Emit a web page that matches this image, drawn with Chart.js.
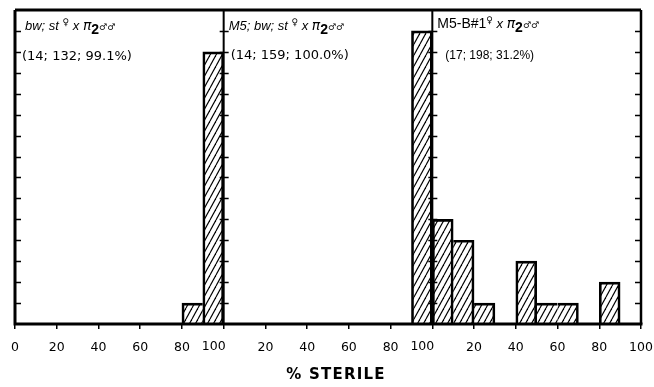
<!DOCTYPE html>
<html>
<head>
<meta charset="utf-8">
<script src="https://cdn.jsdelivr.net/npm/chart.js@4.4.1/dist/chart.umd.min.js"></script>
<style>
  html, body { margin: 0; padding: 0; background: #fff; }
  #wrap { width: 654px; height: 387px; }
</style>
</head>
<body>
<div id="wrap"><canvas id="chart" width="654" height="387"></canvas></div>
<script>
// bin starts (% sterile) inside each panel, 10% wide
const binStarts = [0, 10, 20, 30, 40, 50, 60, 70, 80, 90];
// number of females per bin
const panel1 = [0, 0, 0, 0, 0, 0, 0, 0, 1, 13];
const panel2 = [0, 0, 0, 0, 0, 0, 0, 0, 0, 14];
const panel3 = [5, 4, 1, 0, 3, 1, 1, 0, 2, 0];
const panels = [panel1, panel2, panel3];
const statLabels = ['(14; 132; 99.1%)', '(14; 159; 100.0%)', '(17; 198; 31.2%)'];
const axisTitle = '% STERILE';
const yMax = 15;

const NARROW = '"Liberation Sans Narrow", "Liberation Sans", sans-serif';
const SANS = '"Liberation Sans", Arial, sans-serif';
const DJ = '"DejaVu Sans", sans-serif';
const TICK_FONT = '12.5px ' + DJ;

// pieces of the cross labels (text, font, vertical shift)
const crossLabels = [
    [['bw; st ', 'italic 13px ' + NARROW, 0], ['♀', '9px ' + DJ, -5], [' x ', 'italic 13px ' + NARROW, 0],
     ['π', 'italic 14px ' + DJ, 0], ['2', 'bold 14px ' + SANS, 4], ['♂♂', '9px ' + DJ, 0]],
    [['M5; bw; st ', 'italic 13px ' + NARROW, 0], ['♀', '9px ' + DJ, -5], [' x ', 'italic 13px ' + NARROW, 0],
     ['π', 'italic 14px ' + DJ, 0], ['2', 'bold 14px ' + SANS, 4], ['♂♂', '9px ' + DJ, 0]],
    [['M5-B#1', '14px ' + SANS, 0], ['♀', '9px ' + DJ, -5], [' x ', 'italic 13px ' + NARROW, 0],
     ['π', 'italic 14px ' + DJ, 0], ['2', 'bold 14px ' + SANS, 4], ['♂♂', '9px ' + DJ, 0]]
];

function hatchPattern() {
    const c = document.createElement('canvas');
    c.width = 6; c.height = 11;
    const g = c.getContext('2d');
    g.strokeStyle = '#000';
    g.lineWidth = 1.2;
    for (const off of [-6, 0, 6]) {
        g.beginPath();
        g.moveTo(off, 11);
        g.lineTo(off + 6, 0);
        g.stroke();
    }
    return g.createPattern(c, 'repeat');
}

const points = panels.flatMap((vals, p) =>
    vals.map((v, i) => ({ x: p * 100 + binStarts[i] + 5, y: v })));

// histogram outline: a shared edge is drawn only by the taller bar
function barBorder(ctx) {
    const i = ctx.dataIndex;
    const vals = panels[Math.floor(i / 10)];
    const k = i % 10;
    const v = vals[k];
    return {
        top: 2,
        bottom: 0,
        left: k > 0 && vals[k - 1] >= v ? 0 : 2,
        right: k < 9 && vals[k + 1] >= v ? 0 : 2
    };
}

const framePlugin = {
    id: 'frame',
    afterDatasetsDraw(chart) {
        const { ctx, chartArea: a, scales: { x, y } } = chart;
        ctx.save();
        ctx.strokeStyle = '#000';
        // y ticks
        ctx.lineWidth = 1.5;
        const d1 = x.getPixelForValue(100), d2 = x.getPixelForValue(200);
        for (let v = 1; v < yMax; v++) {
            const py = Math.round(y.getPixelForValue(v)) + 0.5;
            ctx.beginPath();
            ctx.moveTo(a.left, py); ctx.lineTo(a.left + 6, py);
            ctx.moveTo(d1 - 4, py); ctx.lineTo(d1 + 5, py);
            ctx.moveTo(d2 - 4, py); ctx.lineTo(d2 + 5, py);
            ctx.moveTo(a.right - 6, py); ctx.lineTo(a.right, py);
            ctx.stroke();
        }
        // dividers
        ctx.lineWidth = 2;
        ctx.beginPath();
        ctx.moveTo(d1, a.top); ctx.lineTo(d1, a.bottom);
        ctx.moveTo(d2, a.top); ctx.lineTo(d2, a.bottom);
        ctx.stroke();
        // outer frame
        ctx.lineWidth = 3;
        ctx.beginPath();
        ctx.moveTo(a.left, a.top); ctx.lineTo(a.right, a.top);
        ctx.moveTo(a.left, a.top); ctx.lineTo(a.left, a.bottom);
        ctx.moveTo(a.left - 1.5, a.bottom); ctx.lineTo(a.right + 1.5, a.bottom);
        ctx.stroke();
        ctx.lineWidth = 2.5;
        ctx.beginPath();
        ctx.moveTo(a.right, a.top); ctx.lineTo(a.right, a.bottom);
        ctx.stroke();

        // panel labels
        ctx.fillStyle = '#000';
        ctx.textBaseline = 'alphabetic';
        const starts = [a.left + 10, d1 + 5, d2 + 5];
        crossLabels.forEach((parts, p) => {
            let px = starts[p];
            const base = p === 2 ? 28 : 30;
            for (const [t, f, dy] of parts) {
                ctx.font = f;
                ctx.fillText(t, px, base + dy);
                px += ctx.measureText(t).width;
            }
        });
        ctx.textBaseline = 'middle';
        ctx.font = '13px ' + DJ;
        ctx.fillText(statLabels[0], a.left + 7, 57);
        ctx.fillText(statLabels[1], d1 + 7, 56);
        ctx.font = '12px ' + SANS;
        ctx.fillText(statLabels[2], d2 + 13, 56);

        // "100" labels at the panel joins sit just left of the divider
        ctx.font = TICK_FONT;
        ctx.textAlign = 'center';
        ctx.textBaseline = 'top';
        const ly = x.top + 5 + 11;
        ctx.fillText('100', d1 - 10, ly);
        ctx.fillText('100', d2 - 10, ly);

        // axis title
        ctx.textBaseline = 'middle';
        ctx.font = 'bold 15px ' + DJ;
        ctx.letterSpacing = '1.2px';
        ctx.fillText(axisTitle, 336, 375);
        ctx.restore();
    }
};

new Chart(document.getElementById('chart'), {
    type: 'bar',
    data: {
        datasets: [{
            data: points,
            backgroundColor: hatchPattern(),
            borderColor: '#000',
            borderWidth: barBorder,
            borderSkipped: false,
            barPercentage: 1,
            categoryPercentage: 1
        }]
    },
    options: {
        responsive: false,
        animation: false,
        layout: { padding: { left: 15, right: 13, top: 10, bottom: 21 } },
        plugins: { legend: { display: false }, tooltip: { enabled: false } },
        scales: {
            x: {
                type: 'linear',
                offset: false,
                min: 0,
                max: 300,
                border: { display: false },
                grid: { offset: false, drawOnChartArea: false, drawTicks: true, tickLength: 5, color: '#000', lineWidth: 1.5 },
                ticks: {
                    stepSize: 20,
                    padding: 11,
                    color: '#000',
                    font: { family: '"DejaVu Sans", sans-serif', size: 12.5 },
                    maxRotation: 0,
                    autoSkip: false,
                    callback: v => (v === 0 ? '0' : (v === 300 ? '100' : (v % 100 === 0 ? '' : String(v % 100))))
                },
                afterFit(scale) {
                    scale.paddingLeft = 0;
                    scale.paddingRight = 0;
                }
            },
            y: {
                display: false,
                min: 0,
                max: yMax
            }
        }
    },
    plugins: [framePlugin]
});
</script>
</body>
</html>
